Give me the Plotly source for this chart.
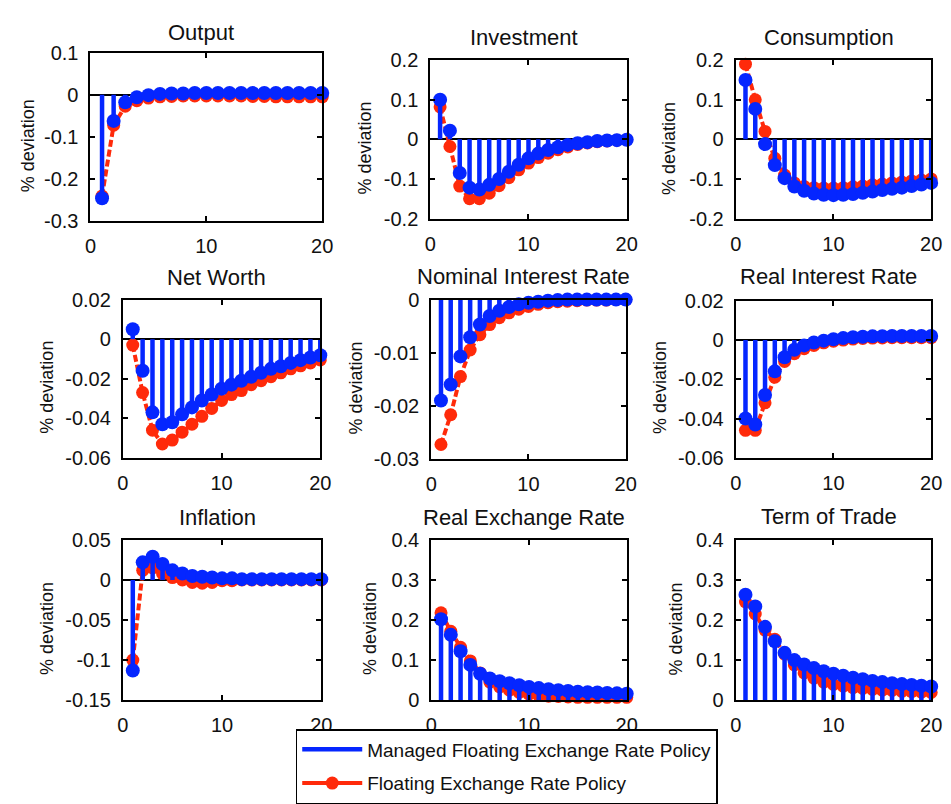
import plotly.graph_objects as go

# ---------------- data ----------------
periods = list(range(1, 21))

titles = ["Output", "Investment", "Consumption",
          "Net Worth", "Nominal Interest Rate", "Real Interest Rate",
          "Inflation", "Real Exchange Rate", "Term of Trade"]

managed_output = [-0.245, -0.062, -0.018, -0.006, -0.001, 0.002, 0.003, 0.003, 0.004, 0.004,
                  0.004, 0.004, 0.004, 0.004, 0.004, 0.004, 0.004, 0.004, 0.004, 0.004]
floating_output = [-0.240, -0.072, -0.027, -0.014, -0.008, -0.005, -0.004, -0.003, -0.003, -0.003,
                   -0.003, -0.003, -0.003, -0.004, -0.004, -0.005, -0.005, -0.005, -0.005, -0.005]

managed_investment = [0.100, 0.022, -0.085, -0.122, -0.127, -0.115, -0.100, -0.082, -0.064, -0.048,
                      -0.036, -0.027, -0.020, -0.014, -0.010, -0.007, -0.004, -0.003, -0.002, -0.001]
floating_investment = [0.082, -0.018, -0.118, -0.150, -0.150, -0.136, -0.117, -0.097, -0.077, -0.060,
                       -0.046, -0.035, -0.026, -0.019, -0.013, -0.009, -0.006, -0.004, -0.002, -0.001]

managed_consumption = [0.150, 0.077, -0.012, -0.065, -0.098, -0.119, -0.130, -0.137, -0.140, -0.141,
                       -0.140, -0.138, -0.135, -0.132, -0.128, -0.125, -0.122, -0.118, -0.114, -0.110]
floating_consumption = [0.190, 0.100, 0.020, -0.048, -0.090, -0.110, -0.119, -0.122, -0.123, -0.123,
                        -0.122, -0.120, -0.118, -0.115, -0.113, -0.110, -0.108, -0.105, -0.103, -0.100]

managed_networth = [0.005, -0.016, -0.037, -0.043, -0.042, -0.038, -0.0345, -0.031, -0.028, -0.025,
                    -0.023, -0.021, -0.019, -0.017, -0.015, -0.0137, -0.012, -0.0106, -0.0093, -0.0081]
floating_networth = [-0.003, -0.027, -0.046, -0.053, -0.051, -0.047, -0.043, -0.039, -0.035, -0.031,
                     -0.028, -0.026, -0.023, -0.021, -0.019, -0.017, -0.015, -0.0135, -0.012, -0.0105]

managed_nominal = [-0.019, -0.016, -0.0107, -0.0071, -0.0047, -0.0031, -0.0021, -0.0014, -0.0009, -0.0006,
                   -0.0004, -0.0002, -0.0001, 0.0, 0.0, 0.0, 0.0, 0.0, 0.0, 0.0]
floating_nominal = [-0.0273, -0.0217, -0.0145, -0.0095, -0.0066, -0.0047, -0.0034, -0.0025, -0.0018, -0.0013,
                    -0.0009, -0.0006, -0.0004, -0.0003, -0.0002, -0.0001, -0.0001, -0.0001, 0.0, 0.0]

managed_real_rate = [-0.040, -0.043, -0.028, -0.016, -0.0088, -0.005, -0.0028, -0.0013, -0.0004, 0.0003,
                     0.0009, 0.0013, 0.0016, 0.0018, 0.0019, 0.002, 0.002, 0.002, 0.002, 0.002]
floating_real_rate = [-0.046, -0.046, -0.032, -0.019, -0.011, -0.007, -0.0045, -0.0028, -0.0015, -0.0007,
                      -0.0001, 0.0004, 0.0007, 0.0009, 0.001, 0.0011, 0.0011, 0.0011, 0.0011, 0.0011]

managed_inflation = [-0.113, 0.022, 0.029, 0.020, 0.012, 0.008, 0.005, 0.004, 0.003, 0.002,
                     0.002, 0.001, 0.001, 0.001, 0.001, 0.001, 0.001, 0.001, 0.001, 0.001]
floating_inflation = [-0.100, 0.012, 0.015, 0.008, 0.003, 0.000, -0.003, -0.004, -0.003, -0.001,
                      -0.001, 0.0, 0.0, 0.0, 0.0, 0.0, 0.0, 0.0, 0.0, 0.0]

managed_exchange = [0.202, 0.163, 0.122, 0.088, 0.066, 0.054, 0.047, 0.042, 0.037, 0.033,
                    0.030, 0.027, 0.025, 0.023, 0.021, 0.020, 0.019, 0.018, 0.017, 0.016]
floating_exchange = [0.218, 0.172, 0.132, 0.098, 0.068, 0.045, 0.033, 0.025, 0.019, 0.015,
                     0.012, 0.010, 0.009, 0.008, 0.007, 0.007, 0.007, 0.007, 0.007, 0.007]

managed_tot = [0.263, 0.234, 0.183, 0.147, 0.118, 0.100, 0.089, 0.080, 0.072, 0.066,
               0.061, 0.056, 0.052, 0.048, 0.045, 0.042, 0.040, 0.038, 0.036, 0.034]
floating_tot = [0.245, 0.215, 0.175, 0.152, 0.115, 0.088, 0.068, 0.055, 0.045, 0.039,
                0.035, 0.031, 0.029, 0.027, 0.025, 0.024, 0.022, 0.021, 0.020, 0.019]

managed = [managed_output, managed_investment, managed_consumption,
           managed_networth, managed_nominal, managed_real_rate,
           managed_inflation, managed_exchange, managed_tot]
floating = [floating_output, floating_investment, floating_consumption,
            floating_networth, floating_nominal, floating_real_rate,
            floating_inflation, floating_exchange, floating_tot]

y_ticks = [[-0.3, -0.2, -0.1, 0, 0.1],
           [-0.2, -0.1, 0, 0.1, 0.2],
           [-0.2, -0.1, 0, 0.1, 0.2],
           [-0.06, -0.04, -0.02, 0, 0.02],
           [-0.03, -0.02, -0.01, 0],
           [-0.06, -0.04, -0.02, 0, 0.02],
           [-0.15, -0.1, -0.05, 0, 0.05],
           [0, 0.1, 0.2, 0.3, 0.4],
           [0, 0.1, 0.2, 0.3, 0.4]]
y_tick_labels = [["-0.3", "-0.2", "-0.1", "0", "0.1"],
                 ["-0.2", "-0.1", "0", "0.1", "0.2"],
                 ["-0.2", "-0.1", "0", "0.1", "0.2"],
                 ["-0.06", "-0.04", "-0.02", "0", "0.02"],
                 ["-0.03", "-0.02", "-0.01", "0"],
                 ["-0.06", "-0.04", "-0.02", "0", "0.02"],
                 ["-0.15", "-0.1", "-0.05", "0", "0.05"],
                 ["0", "0.1", "0.2", "0.3", "0.4"],
                 ["0", "0.1", "0.2", "0.3", "0.4"]]
x_ticks = [0, 10, 20]
x_tick_labels = ["0", "10", "20"]

series_names = ["Managed Floating Exchange Rate Policy", "Floating Exchange Rate Policy"]
y_label = "% deviation"

# ---------------- layout geometry (pixels) ----------------
W, H = 951, 804
# left, right, top, bottom of each plotting box
boxes = [(86, 322, 43, 218), (432, 632, 51, 215), (743, 942, 51, 215),
         (119, 320, 299, 463), (433, 631, 299, 464), (743, 942, 300, 463),
         (119, 321, 548, 714), (433, 632, 548, 714), (743, 942, 548, 714)]
title_y = [22, 27, 27, 276, 275, 275, 525, 525, 524]
ylabel_x = [22, 366, 675, 42, 356, 666, 41, 370, 682]

BLUE = "#0526ff"
RED = "#ff2a0a"
FONT = "Liberation Sans, Arial, sans-serif"
INK = "#111111"


def fx(p):
    return p / W


def fy(p):
    return 1 - p / H


fig = go.Figure()
annotations = []

for i in range(9):
    ax = "" if i == 0 else str(i + 1)
    xa, ya = "x" + ax, "y" + ax
    vals_m = managed[i]
    vals_f = floating[i]

    # floating policy: connected line with markers (drawn underneath)
    fig.add_trace(go.Scatter(
        x=periods, y=vals_f, xaxis=xa, yaxis=ya,
        mode="lines+markers", name=series_names[1],
        line=dict(color=RED, width=4, dash="7px,3px"),
        marker=dict(color=RED, size=13, symbol="circle"),
        cliponaxis=False, showlegend=False, legendgroup="floating",
    ))

    # managed policy: stems from zero to each value
    sx, sy = [], []
    for t, v in zip(periods, vals_m):
        sx += [t, t, None]
        sy += [0, v, None]
    fig.add_trace(go.Scatter(
        x=sx, y=sy, xaxis=xa, yaxis=ya, mode="lines",
        name=series_names[0],
        line=dict(color=BLUE, width=4.5),
        showlegend=(i == 0), legendrank=1, legendgroup="managed",
    ))
    fig.add_trace(go.Scatter(
        x=periods, y=vals_m, xaxis=xa, yaxis=ya, mode="markers",
        marker=dict(color=BLUE, size=14, symbol="circle"),
        cliponaxis=False, showlegend=False, legendgroup="managed",
    ))

    l, r, t, b = boxes[i]
    yt = y_ticks[i]
    axis_common = dict(
        showline=True, linecolor="black", linewidth=2, mirror="ticks",
        ticks="inside", ticklen=5, tickwidth=1.5, tickcolor="black",
        showgrid=False, layer="above traces",
        tickfont=dict(family=FONT, size=20, color=INK),
    )
    fig.update_layout(**{
        "xaxis" + ax: dict(domain=[fx(l), fx(r)], anchor=ya, range=[0, 20],
                           tickvals=x_ticks, ticktext=x_tick_labels,
                           zeroline=False, ticklabelstandoff=6, **axis_common),
        "yaxis" + ax: dict(domain=[fy(b), fy(t)], anchor=xa, range=[yt[0], yt[-1]],
                           tickvals=yt, ticktext=y_tick_labels[i],
                           zeroline=True, zerolinecolor="black", zerolinewidth=2,
                           ticklabelstandoff=6, **axis_common),
    })

    annotations.append(dict(
        text=titles[i], x=fx((l + r) / 2 - 5), y=fy(title_y[i]),
        xref="paper", yref="paper", xanchor="center", yanchor="middle",
        showarrow=False, font=dict(family=FONT, size=22, color=INK),
    ))
    annotations.append(dict(
        text=y_label, x=fx(ylabel_x[i]), y=fy((t + b) / 2 + 9),
        xref="paper", yref="paper", xanchor="center", yanchor="middle",
        textangle=-90, showarrow=False,
        font=dict(family=FONT, size=18, color=INK),
    ))

# legend key for the floating policy: solid line with a marker
fig.add_trace(go.Scatter(
    x=[None], y=[None], mode="lines+markers", name=series_names[1],
    line=dict(color=RED, width=4), marker=dict(color=RED, size=13),
    showlegend=True, legendrank=2, legendgroup="floating",
))

fig.update_layout(
    width=W, height=H,
    margin=dict(l=0, r=0, t=0, b=0),
    paper_bgcolor="white", plot_bgcolor="white",
    annotations=annotations,
    showlegend=True,
    legend=dict(
        x=fx(295), y=fy(744), xanchor="left", yanchor="top",
        bgcolor="white", bordercolor="black", borderwidth=1.5,
        font=dict(family=FONT, size=19, color=INK),
        itemwidth=60, tracegroupgap=6, traceorder="grouped",
    ),
)

fig.write_html("out.html")
